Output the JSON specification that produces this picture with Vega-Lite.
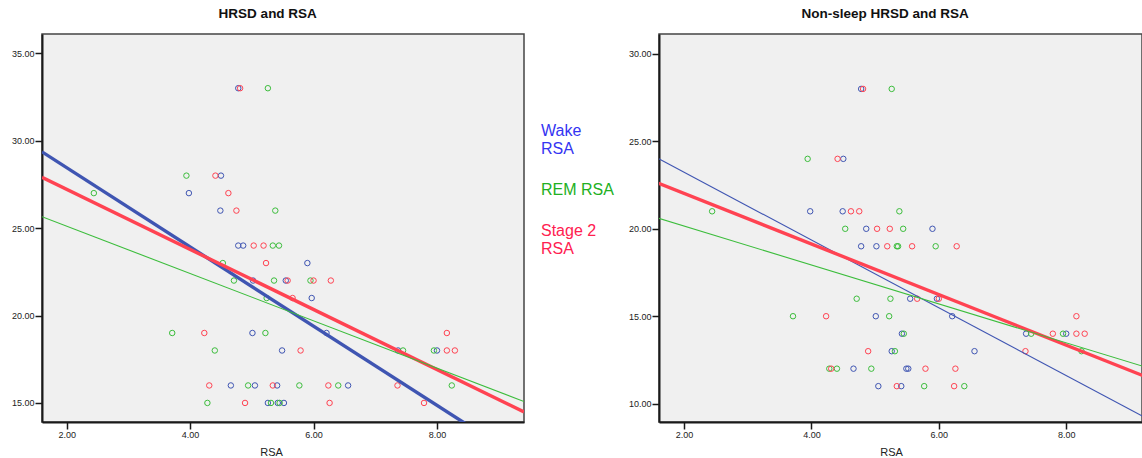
{
  "$schema": "https://vega.github.io/schema/vega-lite/v6.json",
  "background": "white",
  "padding": {"left": 10, "top": 5, "right": 0, "bottom": 0},
  "autosize": {"type": "pad"},
  "datasets": {
    "points": [
      {"series": "Wake RSA", "rsa": 4.78, "hrsd": 33, "nonsleep": 28},
      {"series": "Wake RSA", "rsa": 4.50, "hrsd": 28, "nonsleep": 24},
      {"series": "Wake RSA", "rsa": 3.98, "hrsd": 27, "nonsleep": 21},
      {"series": "Wake RSA", "rsa": 4.49, "hrsd": 26, "nonsleep": 21},
      {"series": "Wake RSA", "rsa": 4.78, "hrsd": 24, "nonsleep": 19},
      {"series": "Wake RSA", "rsa": 4.86, "hrsd": 24, "nonsleep": 20},
      {"series": "Wake RSA", "rsa": 5.90, "hrsd": 23, "nonsleep": 20},
      {"series": "Wake RSA", "rsa": 5.02, "hrsd": 22, "nonsleep": 19},
      {"series": "Wake RSA", "rsa": 5.55, "hrsd": 22, "nonsleep": 16},
      {"series": "Wake RSA", "rsa": 5.97, "hrsd": 21, "nonsleep": 16},
      {"series": "Wake RSA", "rsa": 5.01, "hrsd": 19, "nonsleep": 15},
      {"series": "Wake RSA", "rsa": 6.21, "hrsd": 19, "nonsleep": 15},
      {"series": "Wake RSA", "rsa": 5.49, "hrsd": 18, "nonsleep": 12},
      {"series": "Wake RSA", "rsa": 7.37, "hrsd": 18, "nonsleep": 14},
      {"series": "Wake RSA", "rsa": 8.00, "hrsd": 18, "nonsleep": 14},
      {"series": "Wake RSA", "rsa": 4.66, "hrsd": 16, "nonsleep": 12},
      {"series": "Wake RSA", "rsa": 5.05, "hrsd": 16, "nonsleep": 11},
      {"series": "Wake RSA", "rsa": 5.41, "hrsd": 16, "nonsleep": 11},
      {"series": "Wake RSA", "rsa": 6.56, "hrsd": 16, "nonsleep": 13},
      {"series": "Wake RSA", "rsa": 5.26, "hrsd": 15, "nonsleep": 13},
      {"series": "Wake RSA", "rsa": 5.42, "hrsd": 15, "nonsleep": 14},
      {"series": "Wake RSA", "rsa": 5.52, "hrsd": 15, "nonsleep": 12},
      {"series": "REM RSA", "rsa": 5.26, "hrsd": 33, "nonsleep": 28},
      {"series": "REM RSA", "rsa": 3.94, "hrsd": 28, "nonsleep": 24},
      {"series": "REM RSA", "rsa": 2.44, "hrsd": 27, "nonsleep": 21},
      {"series": "REM RSA", "rsa": 5.38, "hrsd": 26, "nonsleep": 21},
      {"series": "REM RSA", "rsa": 5.34, "hrsd": 24, "nonsleep": 19},
      {"series": "REM RSA", "rsa": 5.44, "hrsd": 24, "nonsleep": 20},
      {"series": "REM RSA", "rsa": 4.53, "hrsd": 23, "nonsleep": 20},
      {"series": "REM RSA", "rsa": 4.71, "hrsd": 22, "nonsleep": 16},
      {"series": "REM RSA", "rsa": 5.36, "hrsd": 22, "nonsleep": 19},
      {"series": "REM RSA", "rsa": 5.95, "hrsd": 22, "nonsleep": 19},
      {"series": "REM RSA", "rsa": 5.24, "hrsd": 21, "nonsleep": 16},
      {"series": "REM RSA", "rsa": 3.71, "hrsd": 19, "nonsleep": 15},
      {"series": "REM RSA", "rsa": 5.22, "hrsd": 19, "nonsleep": 15},
      {"series": "REM RSA", "rsa": 4.40, "hrsd": 18, "nonsleep": 12},
      {"series": "REM RSA", "rsa": 7.45, "hrsd": 18, "nonsleep": 14},
      {"series": "REM RSA", "rsa": 7.95, "hrsd": 18, "nonsleep": 14},
      {"series": "REM RSA", "rsa": 4.94, "hrsd": 16, "nonsleep": 12},
      {"series": "REM RSA", "rsa": 5.77, "hrsd": 16, "nonsleep": 11},
      {"series": "REM RSA", "rsa": 6.40, "hrsd": 16, "nonsleep": 11},
      {"series": "REM RSA", "rsa": 8.24, "hrsd": 16, "nonsleep": 13},
      {"series": "REM RSA", "rsa": 4.28, "hrsd": 15, "nonsleep": 12},
      {"series": "REM RSA", "rsa": 5.31, "hrsd": 15, "nonsleep": 13},
      {"series": "REM RSA", "rsa": 5.45, "hrsd": 15, "nonsleep": 14},
      {"series": "Stage 2 RSA", "rsa": 4.81, "hrsd": 33, "nonsleep": 28},
      {"series": "Stage 2 RSA", "rsa": 4.41, "hrsd": 28, "nonsleep": 24},
      {"series": "Stage 2 RSA", "rsa": 4.62, "hrsd": 27, "nonsleep": 21},
      {"series": "Stage 2 RSA", "rsa": 4.75, "hrsd": 26, "nonsleep": 21},
      {"series": "Stage 2 RSA", "rsa": 5.03, "hrsd": 24, "nonsleep": 20},
      {"series": "Stage 2 RSA", "rsa": 5.19, "hrsd": 24, "nonsleep": 19},
      {"series": "Stage 2 RSA", "rsa": 5.23, "hrsd": 23, "nonsleep": 20},
      {"series": "Stage 2 RSA", "rsa": 5.58, "hrsd": 22, "nonsleep": 19},
      {"series": "Stage 2 RSA", "rsa": 6.00, "hrsd": 22, "nonsleep": 16},
      {"series": "Stage 2 RSA", "rsa": 6.28, "hrsd": 22, "nonsleep": 19},
      {"series": "Stage 2 RSA", "rsa": 5.66, "hrsd": 21, "nonsleep": 16},
      {"series": "Stage 2 RSA", "rsa": 4.23, "hrsd": 19, "nonsleep": 15},
      {"series": "Stage 2 RSA", "rsa": 8.16, "hrsd": 19, "nonsleep": 15},
      {"series": "Stage 2 RSA", "rsa": 5.79, "hrsd": 18, "nonsleep": 12},
      {"series": "Stage 2 RSA", "rsa": 8.16, "hrsd": 18, "nonsleep": 14},
      {"series": "Stage 2 RSA", "rsa": 8.29, "hrsd": 18, "nonsleep": 14},
      {"series": "Stage 2 RSA", "rsa": 4.31, "hrsd": 16, "nonsleep": 12},
      {"series": "Stage 2 RSA", "rsa": 5.34, "hrsd": 16, "nonsleep": 11},
      {"series": "Stage 2 RSA", "rsa": 6.24, "hrsd": 16, "nonsleep": 11},
      {"series": "Stage 2 RSA", "rsa": 7.36, "hrsd": 16, "nonsleep": 13},
      {"series": "Stage 2 RSA", "rsa": 4.89, "hrsd": 15, "nonsleep": 13},
      {"series": "Stage 2 RSA", "rsa": 6.26, "hrsd": 15, "nonsleep": 12},
      {"series": "Stage 2 RSA", "rsa": 7.79, "hrsd": 15, "nonsleep": 14}
    ],
    "fits": [
      {"panel": "HRSD", "series": "Wake RSA", "rsa": 1.6, "value": 29.36},
      {"panel": "HRSD", "series": "Wake RSA", "rsa": 9.41, "value": 11.67},
      {"panel": "HRSD", "series": "Stage 2 RSA", "rsa": 1.6, "value": 27.9},
      {"panel": "HRSD", "series": "Stage 2 RSA", "rsa": 9.41, "value": 14.49},
      {"panel": "HRSD", "series": "REM RSA", "rsa": 1.6, "value": 25.65},
      {"panel": "HRSD", "series": "REM RSA", "rsa": 9.41, "value": 15.08},
      {"panel": "Non-sleep", "series": "Wake RSA", "rsa": 1.6, "value": 24.01},
      {"panel": "Non-sleep", "series": "Wake RSA", "rsa": 9.4, "value": 8.89},
      {"panel": "Non-sleep", "series": "Stage 2 RSA", "rsa": 1.6, "value": 22.6},
      {"panel": "Non-sleep", "series": "Stage 2 RSA", "rsa": 9.4, "value": 11.32},
      {"panel": "Non-sleep", "series": "REM RSA", "rsa": 1.6, "value": 20.6},
      {"panel": "Non-sleep", "series": "REM RSA", "rsa": 9.4, "value": 11.92}
    ]
  },
  "bounds": "flush",
  "spacing": 135,
  "resolve": {"scale": {"x": "independent", "y": "independent", "strokeWidth": "independent"}},
  "hconcat": [
    {
      "width": 482,
      "height": 388,
      "title": {"text": "HRSD and RSA"},
      "layer": [
        {
          "data": {"name": "points"},
          "mark": {"type": "point", "shape": "circle", "filled": false, "size": 30, "strokeWidth": 1, "opacity": 1},
          "encoding": {
            "x": {"field": "rsa", "type": "quantitative", "scale": {"domain": [1.6, 9.41], "nice": false, "zero": false},
                  "axis": {"values": [2, 4, 6, 8], "format": ".2f", "title": "RSA", "titleX": 229, "titleY": 33, "titleBaseline": "alphabetic"}},
            "y": {"field": "hrsd", "type": "quantitative", "scale": {"domain": [13.91, 36.1], "nice": false, "zero": false},
                  "axis": {"values": [15, 20, 25, 30, 35], "format": ".2f", "title": null}},
            "color": {"field": "series", "type": "nominal",
                      "scale": {"domain": ["Wake RSA", "REM RSA", "Stage 2 RSA"], "range": ["#3f55b2", "#3cbd3c", "#ff4352"]},
                      "legend": {
                        "orient": "none", "legendX": 483, "legendY": 81,
                        "title": null, "symbolSize": 0, "symbolStrokeWidth": 0, "symbolOpacity": 0, "labelOffset": 0,
                        "labelFont": "Liberation Sans", "labelFontSize": 16, "labelLimit": 0, "rowPadding": 17, "labelBaseline": "top",
                        "labelExpr": "datum.label == 'Wake RSA' ? ['Wake', 'RSA'] : datum.label == 'Stage 2 RSA' ? ['Stage 2', 'RSA'] : datum.label",
                        "labelColor": {"expr": "datum.value == 'Wake RSA' ? '#3434f2' : datum.value == 'REM RSA' ? '#22b022' : '#ff2050'"}
                      }}
          }
        },
        {
          "data": {"name": "fits"},
          "transform": [{"filter": "datum.panel == 'HRSD'"}],
          "mark": {"type": "line", "clip": true},
          "encoding": {
            "x": {"field": "rsa", "type": "quantitative"},
            "y": {"field": "value", "type": "quantitative"},
            "color": {"field": "series", "type": "nominal"},
            "strokeWidth": {"field": "series", "type": "nominal", "scale": {"type": "ordinal", "domain": ["Wake RSA", "REM RSA", "Stage 2 RSA"], "range": [3.4, 1.1, 3.4]}, "legend": null}
          }
        }
      ]
    },
    {
      "width": 483,
      "height": 388,
      "title": {"text": "Non-sleep HRSD and RSA"},
      "layer": [
        {
          "data": {"name": "points"},
          "mark": {"type": "point", "shape": "circle", "filled": false, "size": 30, "strokeWidth": 1, "opacity": 1},
          "encoding": {
            "x": {"field": "rsa", "type": "quantitative", "scale": {"domain": [1.606, 9.19], "nice": false, "zero": false},
                  "axis": {"values": [2, 4, 6, 8], "format": ".2f", "title": "RSA", "titleX": 232, "titleY": 33, "titleBaseline": "alphabetic"}},
            "y": {"field": "nonsleep", "type": "quantitative", "scale": {"domain": [8.95, 31.14], "nice": false, "zero": false},
                  "axis": {"values": [10, 15, 20, 25, 30], "format": ".2f", "title": null}},
            "color": {"field": "series", "type": "nominal"}
          }
        },
        {
          "data": {"name": "fits"},
          "transform": [{"filter": "datum.panel == 'Non-sleep'"}],
          "mark": {"type": "line", "clip": true},
          "encoding": {
            "x": {"field": "rsa", "type": "quantitative"},
            "y": {"field": "value", "type": "quantitative"},
            "color": {"field": "series", "type": "nominal"},
            "strokeWidth": {"field": "series", "type": "nominal", "scale": {"type": "ordinal", "domain": ["Wake RSA", "REM RSA", "Stage 2 RSA"], "range": [1.1, 1.1, 3.4]}, "legend": null}
          }
        }
      ]
    }
  ],
  "config": {
    "view": {"fill": "#f0f0f0", "stroke": "#444444", "strokeWidth": 1.5},
    "axis": {
      "grid": false, "domainColor": "#1a1a1a", "domainWidth": 2, "tickColor": "#1a1a1a", "tickWidth": 1.5, "tickSize": 7,
      "labelFont": "Liberation Sans", "labelFontSize": 9, "labelColor": "#222222", "labelPadding": 1,
      "titleFont": "Liberation Sans", "titleFontSize": 11, "titleFontWeight": "normal", "titleColor": "#222222"
    },
    "title": {"font": "Liberation Sans", "fontSize": 13.5, "fontWeight": "bold", "color": "#111111", "anchor": "middle", "frame": "bounds", "offset": 14, "baseline": "alphabetic"}
  }
}
